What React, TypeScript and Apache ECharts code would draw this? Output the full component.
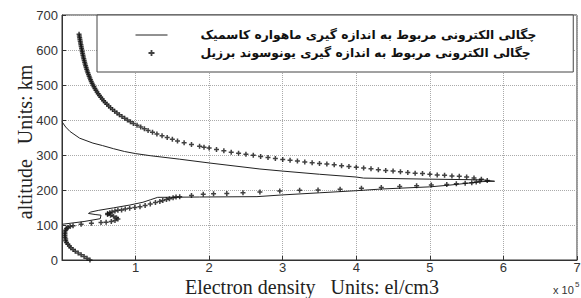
import React, { useEffect, useRef } from "react";
import * as echarts from "echarts";

// Electron density in units of 10^5 el/cm3, altitude in km
const cosmicName = "چگالی الکترونی مربوط به اندازه گیری ماهواره کاسمیک";
const ionoName = "چگالی الکترونی مربوط به اندازه گیری یونوسوند برزیل";

const cosmicDensity = [0, 0.05, 0.11, 0.24, 0.42, 0.55, 0.7, 0.85, 1.0, 1.2, 1.4, 1.6, 2.01, 2.69, 3.0, 3.5, 4.0, 4.1, 5.0, 5.72, 5.88, 5.72, 5.27, 5.0, 4.36, 4.0, 3.5, 3.0, 2.65, 1.87, 1.3, 1.2, 1.1, 0.92, 0.7, 0.5, 0.39, 0.36, 0.45, 0.53, 0.52, 0.3, 0.0];
const cosmicAltitude = [395, 380, 367, 348, 334, 327, 318, 310, 304, 298, 293, 288, 277, 260, 254, 245, 237, 234, 231, 229, 225, 224, 214, 209, 203, 198, 192, 186, 181, 180, 179, 172, 165, 157, 149, 142, 137, 133, 130, 128, 118, 110, 102];

const ionoDensity = [
  0.232, 0.236, 0.24, 0.244, 0.248, 0.252, 0.257, 0.261, 0.266, 0.27, 0.275, 0.28, 0.285, 0.29, 0.296, 0.302, 0.308, 0.314, 0.321, 0.328,
  0.335, 0.343, 0.351, 0.36, 0.369, 0.378, 0.388, 0.398, 0.409, 0.421, 0.434, 0.447, 0.461, 0.476, 0.492, 0.509, 0.527, 0.546, 0.566, 0.587,
  0.61, 0.634, 0.66, 0.687, 0.716, 0.747, 0.78, 0.815, 0.852, 0.89, 0.93, 0.97, 1.02, 1.07, 1.12, 1.17, 1.23, 1.29, 1.36, 1.43,
  1.5, 1.57, 1.66, 1.76, 1.87, 1.93,
  2.0, 2.1, 2.2, 2.3, 2.4, 2.5, 2.6, 2.7, 2.8, 2.9, 3.0, 3.1, 3.2, 3.3, 3.4, 3.5, 3.6, 3.7, 3.8, 3.9,
  4.0, 4.1, 4.2, 4.3, 4.4, 4.5, 4.6, 4.7, 4.8, 4.9, 5.0, 5.1, 5.2, 5.3, 5.4, 5.5, 5.6, 5.7, 5.78,
  5.68, 5.63, 5.57, 5.48, 5.36, 5.23, 5.02, 4.82, 4.59, 4.34, 4.07, 3.78, 3.48, 3.23, 2.96, 2.69, 2.46, 2.24, 2.06, 1.92,
  1.76, 1.6, 1.55, 1.51, 1.46, 1.42, 1.37, 1.33, 1.27, 1.2, 1.13, 1.06, 0.99, 0.92, 0.86, 0.81, 0.76, 0.72, 0.68, 0.65,
  0.62, 0.62, 0.66, 0.7, 0.74, 0.76, 0.72, 0.67, 0.6, 0.53, 0.4, 0.26, 0.15, 0.11, 0.08, 0.06, 0.05, 0.04, 0.04, 0.04,
  0.04, 0.05, 0.05, 0.06, 0.08, 0.1, 0.12, 0.15, 0.18, 0.22, 0.26, 0.3, 0.34, 0.38,
];
const ionoAltitude = [
  645, 640, 635, 630, 625, 620, 615, 610, 605, 600, 595, 590, 585, 580, 575, 570, 565, 560, 555, 550,
  545, 540, 535, 530, 525, 520, 515, 510, 505, 500, 495, 490, 485, 480, 475, 470, 465, 460, 455, 450,
  445, 440, 435, 430, 425, 420, 415, 410, 405, 400, 395, 390, 385, 380, 375, 370, 365, 360, 355, 350,
  345, 340, 335, 330, 325, 322,
  320, 316, 312, 308, 305, 302, 299, 296, 293, 290, 287, 285, 283, 280, 278, 276, 274, 272, 269, 267,
  265, 263, 261, 258, 256, 254, 252, 250, 248, 247, 245, 243, 242, 240, 239, 237, 234, 231, 227,
  225, 223, 221, 219, 218, 216, 214, 212, 210, 207, 205, 202, 200, 199, 197, 194, 192, 190, 189, 188,
  184, 181, 180, 178, 175, 173, 170, 167, 164, 160, 156, 152, 150, 148, 146, 143, 142, 140, 137, 135,
  133, 130, 128, 125, 121, 117, 113, 110, 108, 107, 105, 102, 98, 96, 93, 90, 85, 80, 75, 70,
  65, 60, 55, 50, 45, 40, 35, 30, 25, 20, 15, 10, 5, 0,
];

const xTicks = [0, 1, 2, 3, 4, 5, 6, 7];
const yTicks = [0, 100, 200, 300, 400, 500, 600, 700];

const plusPath = "path://M1.75,0H3.25V1.75H5V3.25H3.25V5H1.75V3.25H0V1.75H1.75Z";

export default function App() {
  const ref = useRef<HTMLDivElement>(null);
  useEffect(() => {
    if (!ref.current) return;
    const chart = echarts.init(ref.current, undefined, { renderer: "svg" });
    const axisCommon = {
      type: "value" as const,
      axisLine: { show: true, onZero: false, lineStyle: { color: "#333", width: 1 } },
      axisTick: { show: true, inside: true, length: 4, lineStyle: { color: "#333" } },
      splitLine: { show: true, lineStyle: { type: "dotted" as const, color: "#aaa", width: 1 } },
    };
    chart.setOption({
      animation: false,
      backgroundColor: "#fff",
      grid: {
        left: 62, right: 4, top: 15, bottom: 38,
        show: true, borderColor: "#333", borderWidth: 1, backgroundColor: "transparent",
        outerBoundsMode: "none",
      },
      xAxis: {
        ...axisCommon,
        min: xTicks[0], max: xTicks[xTicks.length - 1], interval: 1,
        axisLabel: { showMinLabel: false, margin: 1, color: "#333", fontFamily: "Liberation Sans", fontSize: 13 },
      },
      yAxis: {
        ...axisCommon,
        min: yTicks[0], max: yTicks[yTicks.length - 1], interval: 100,
        axisLabel: { margin: 4, color: "#333", fontFamily: "Liberation Sans", fontSize: 13 },
      },
      legend: {
        orient: "vertical",
        left: 97, top: 15,
        padding: [14, 37, 13, 38],
        itemGap: 6,
        itemWidth: 32,
        itemHeight: 6,
        backgroundColor: "#fff",
        borderColor: "#444",
        borderWidth: 1,
        borderRadius: 0,
        lineStyle: { width: 1 },
        textStyle: {
          fontFamily: "DejaVu Sans",
          fontWeight: "bold",
          fontSize: 12.3,
          color: "#111",
          width: 340,
          padding: [0, 0, 0, 28],
        },
        data: [
          { name: cosmicName, itemStyle: { opacity: 0 } },
          { name: ionoName },
        ],
      },
      graphic: [
        {
          type: "text", x: 25, y: 142, rotation: Math.PI / 2,
          style: { text: "altitude   Units: km", textAlign: "center", textVerticalAlign: "middle", verticalAlign: "middle", font: '20px "Liberation Serif"', fill: "#222" },
        },
        {
          type: "text", x: 312, y: 286.5,
          style: { text: "Electron density   Units: el/cm3", textAlign: "center", textVerticalAlign: "middle", verticalAlign: "middle", font: '20px "Liberation Serif"', fill: "#222" },
        },
        {
          type: "text", x: 553, y: 290,
          style: { text: "x 10", textAlign: "left", textVerticalAlign: "middle", verticalAlign: "middle", font: '11px "Liberation Sans"', fill: "#333" },
        },
        {
          type: "text", x: 575, y: 284,
          style: { text: "5", textAlign: "left", textVerticalAlign: "middle", verticalAlign: "middle", font: '8px "Liberation Sans"', fill: "#333" },
        },
      ],
      series: [
        {
          name: cosmicName,
          type: "line",
          data: cosmicDensity.map((d, i) => [d, cosmicAltitude[i]]),
          showSymbol: false,
          symbol: "none",
          lineStyle: { color: "#222", width: 1 },
          itemStyle: { color: "#222" },
          z: 2,
        },
        {
          name: ionoName,
          type: "scatter",
          data: ionoDensity.map((d, i) => [d, ionoAltitude[i]]),
          symbol: plusPath,
          symbolSize: 5,
          itemStyle: { color: "#111" },
          z: 3,
        },
      ],
    });
    return () => chart.dispose();
  }, []);
  return <div ref={ref} style={{ position: "fixed", left: 0, top: 0, width: 581, height: 298 }} />;
}
